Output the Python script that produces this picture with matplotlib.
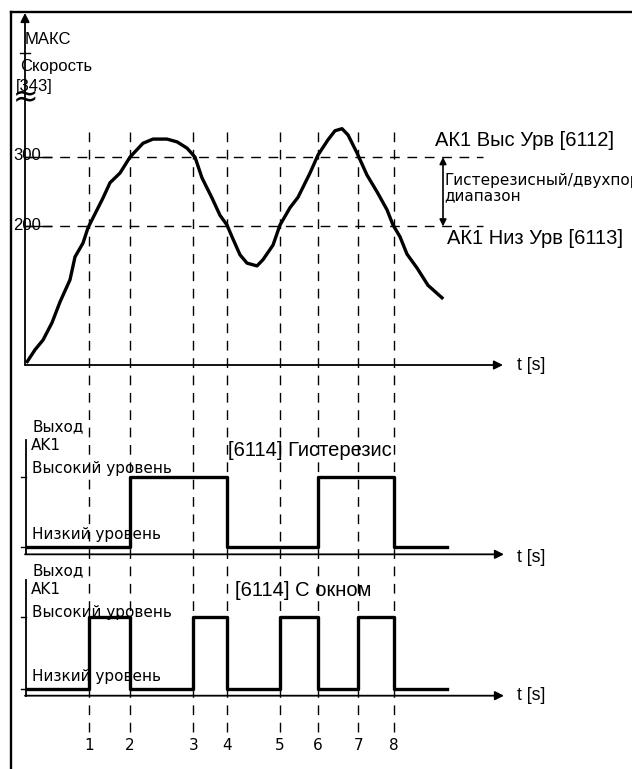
import matplotlib
matplotlib.use('Agg')
import matplotlib.pyplot as plt
import matplotlib.transforms as mtransforms
from matplotlib.lines import Line2D

W, H = 632, 769

# time of the eight switching events (t units, 1 unit = 10 px)
events = [6.43, 10.5, 16.83, 20.23, 25.5, 29.27, 33.33, 36.9]
event_labels = ['1', '2', '3', '4', '5', '6', '7', '8']

# speed curve
speed_t = [0.23, 1.0, 1.8, 2.7, 3.5, 4.5, 5.0, 5.8, 6.3, 7.8, 8.5, 9.5, 10.5,
           11.8, 12.8, 14.2, 15.2, 16.2, 17.0, 17.7, 18.7, 19.5, 20.2, 20.7,
           21.5, 22.2, 23.2, 23.8, 24.8, 25.5, 26.5, 27.3, 28.5, 29.3, 30.3,
           31.0, 31.7, 32.3, 33.2, 34.2, 35.2, 36.2, 36.8, 37.5, 38.2, 39.2,
           40.3, 41.7]
speed_v = [5, 22, 36, 61, 91, 123, 156, 176, 198, 241, 263, 277, 300,
           320, 326, 326, 322, 313, 300, 270, 241, 216, 202, 185,
           159, 147, 143, 152, 173, 202, 227, 242, 277, 303, 325,
           338, 341, 332, 306, 274, 250, 224, 202, 185, 160, 140,
           115, 97]

high_level = 300
low_level = 200
speed_ticks = [300, 200]

# output signals (step, where='post')
hyst_t = [0.2, 10.5, 20.23, 29.27, 36.9, 42.2]
hyst_state = [0, 1, 0, 1, 0, 0]
win_t = [0.2, 6.43, 10.5, 16.83, 20.23, 25.5, 29.27, 33.33, 36.9, 42.2]
win_state = [0, 1, 0, 1, 0, 1, 0, 1, 0, 0]

fig = plt.figure(figsize=(W / 100, H / 100), dpi=100)
PX = mtransforms.Affine2D().scale(1 / W, -1 / H).translate(0, 1) + fig.transFigure

ARIAL = 'Liberation Sans'
SMALL = 'DejaVu Sans'
dash = (0, (7, 5.5))


def panel(zero_px, unit_px):
    ax = fig.add_axes([0, 0, 1, 1])
    ax.set_xlim(-2.5, (W - 25) / 10)
    ax.set_ylim((zero_px - H) / unit_px, zero_px / unit_px)
    ax.axis('off')
    ax.patch.set_alpha(0)
    return ax


def arrow(ax, x0, y0, x1, y1):
    ax.annotate('', xy=(x1, y1), xytext=(x0, y0),
                arrowprops=dict(arrowstyle='-|>', lw=1.3, color='black',
                                mutation_scale=13, shrinkA=0, shrinkB=0))


# frame (left and top edges only)
fig.add_artist(Line2D([11, 11], [H, 12], transform=PX, color='black', lw=1.7))
fig.add_artist(Line2D([11, W], [12, 12], transform=PX, color='black', lw=1.7))

# ---------------- speed panel ----------------
ax = panel(365, 0.693)
for t in events:
    ax.axvline(t, ymin=1 - 732 / H, ymax=1 - 125 / H, color='black', lw=1.0, linestyle=dash)
for lev in speed_ticks:
    ax.plot([0, 45.8], [lev, lev], color='black', lw=1.0, linestyle=dash)
    ax.plot([0, 2.6], [lev, lev], color='black', lw=1.0)
ax.plot(speed_t, speed_v, color='black', lw=2.4, solid_joinstyle='round')
arrow(ax, 0, 0, 0, 508)
arrow(ax, 0, 0, 47.8, 0)
ax.plot([-0.5, 0.5], [450, 450], color='black', lw=1.0)
ax.annotate('', xy=(41.8, high_level), xytext=(41.8, low_level),
            arrowprops=dict(arrowstyle='<|-|>', lw=1.2, color='black',
                            mutation_scale=10, shrinkA=0, shrinkB=0))

for lev, py in zip(speed_ticks, [156, 226]):
    fig.text(13, py, str(lev), transform=PX, fontsize=12, family=ARIAL, va='center')
fig.text(25, 40, 'МАКС', transform=PX, fontsize=12, family=ARIAL, va='center')
fig.text(20, 67, 'Скорость', transform=PX, fontsize=12, family=ARIAL, va='center')
fig.text(16, 87, '[343]', transform=PX, fontsize=12, family=ARIAL, va='center')
fig.text(26, 98, '≈', transform=PX, fontsize=22, family=SMALL, va='center', ha='center')
fig.text(517, 366, 't [s]', transform=PX, fontsize=12.8, family=ARIAL, va='center')
fig.text(435, 140, 'АК1 Выс Урв [6112]', transform=PX, fontsize=14.5, family=ARIAL, va='center')
fig.text(447, 238, 'АК1 Низ Урв [6113]', transform=PX, fontsize=14.5, family=ARIAL, va='center')
fig.text(444, 181, 'Гистерезисный/двухпороговый', transform=PX, fontsize=11, family=SMALL, va='center')
fig.text(444, 196, 'диапазон', transform=PX, fontsize=11, family=SMALL, va='center')

# ---------------- hysteresis output ----------------
ax2 = panel(546.7, 70)
ax2.step(hyst_t, hyst_state, where='post', color='black', lw=2.4)
ax2.plot([0.1, 0.1], [-0.109, 1.52], color='black', lw=1.3)
arrow(ax2, 0, -0.109, 47.9, -0.109)
for lev in [0, 1]:
    ax2.plot([-0.4, 0.1], [lev, lev], color='black', lw=1.0)

# ---------------- window output ----------------
ax3 = panel(689.3, 72.6)
ax3.step(win_t, win_state, where='post', color='black', lw=2.4)
ax3.plot([0.1, 0.1], [-0.088, 1.505], color='black', lw=1.3)
arrow(ax3, 0, -0.088, 47.9, -0.088)
for lev in [0, 1]:
    ax3.plot([-0.4, 0.1], [lev, lev], color='black', lw=1.0)
for t, lab in zip(events, event_labels):
    ax3.text(t, -0.78, lab, ha='center', va='center', fontsize=11, family=SMALL)

out_rows = [(427, 446, 469, 535, 451, 228, '[6114] Гистерезис', 557),
            (571, 590, 612, 677, 591, 235, '[6114] С окном', 696)]
for r_out, r_ak, r_hi, r_lo, r_title, x_title, title, r_t in out_rows:
    fig.text(32, r_out, 'Выход', transform=PX, fontsize=11, family=SMALL, va='center')
    fig.text(31, r_ak, 'AK1', transform=PX, fontsize=11, family=SMALL, va='center')
    fig.text(32, r_hi, 'Высокий уровень', transform=PX, fontsize=11, family=SMALL, va='center')
    fig.text(32, r_lo, 'Низкий уровень', transform=PX, fontsize=11, family=SMALL, va='center')
    fig.text(x_title, r_title, title, transform=PX, fontsize=14.5, family=ARIAL, va='center')
    fig.text(517, r_t, 't [s]', transform=PX, fontsize=12.8, family=ARIAL, va='center')

fig.savefig('out.png', dpi=100)
